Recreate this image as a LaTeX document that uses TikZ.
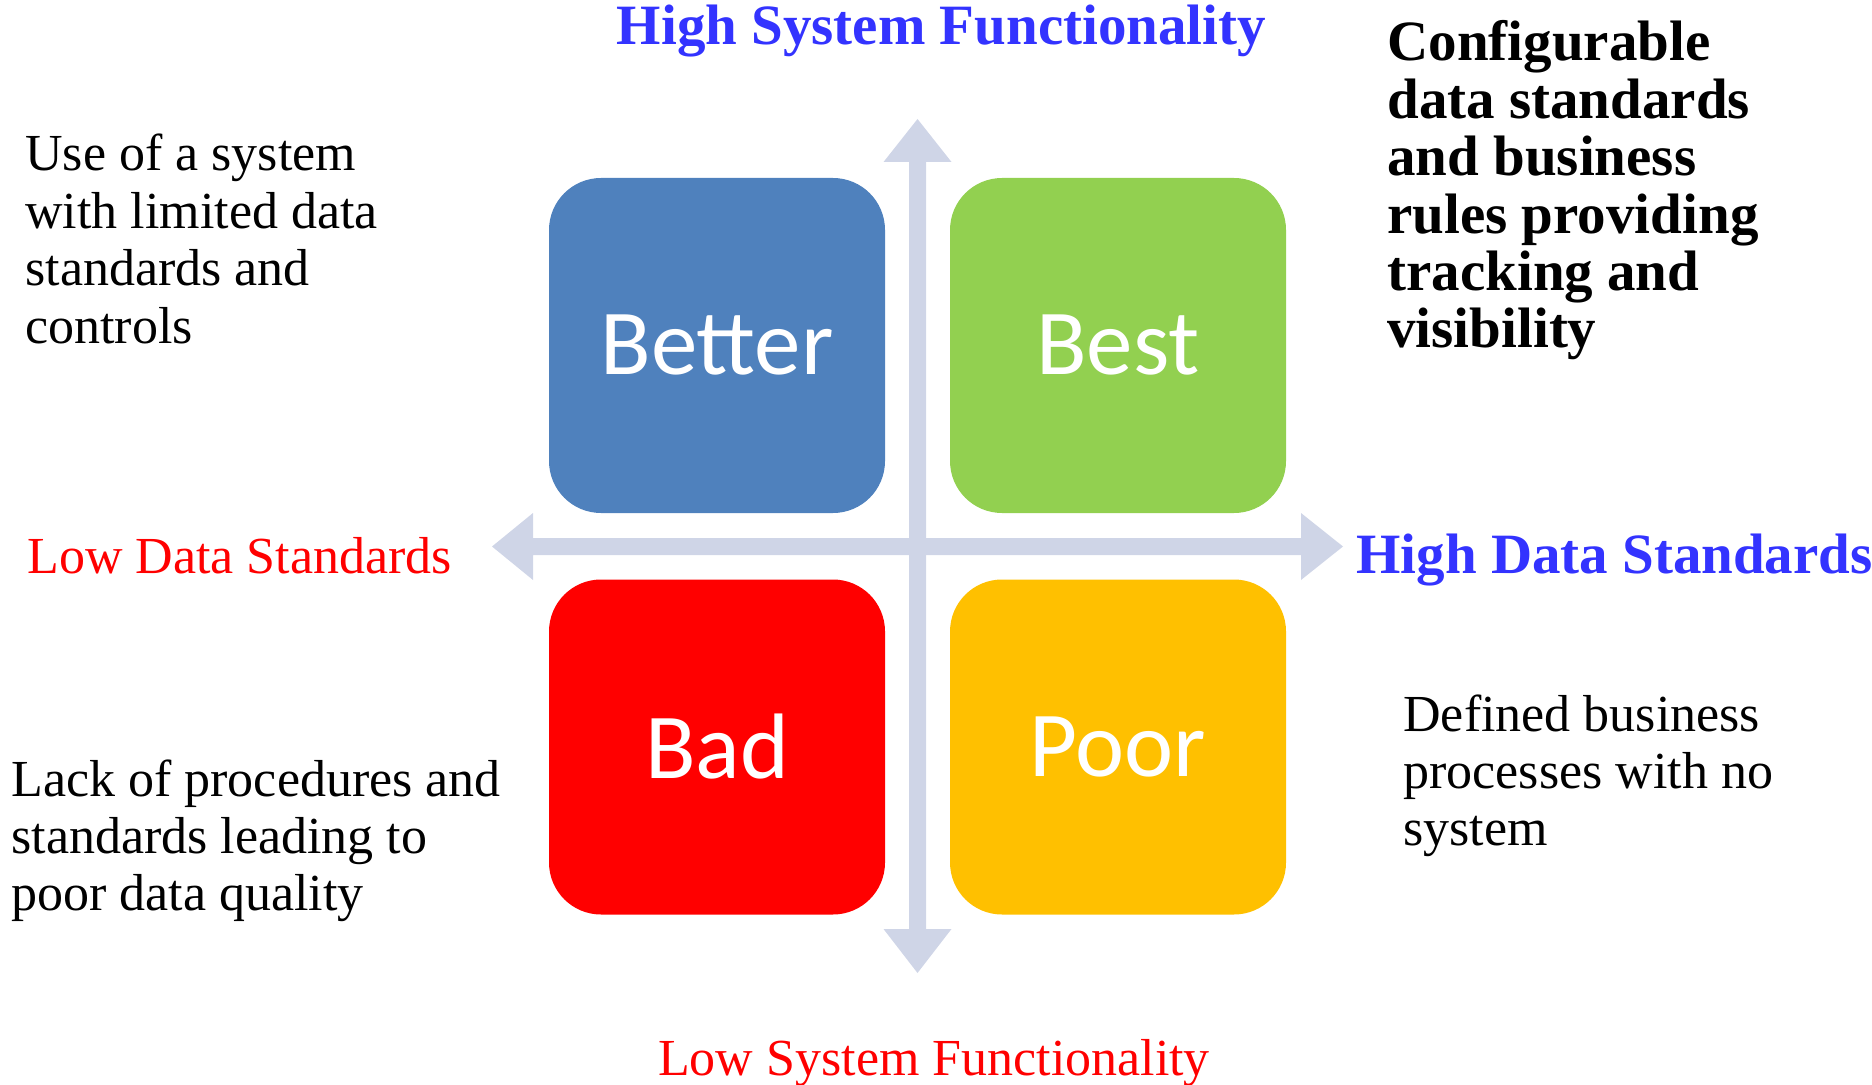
\documentclass[tikz,border=0pt]{standalone}
\usepackage{fontspec}
\setmainfont{Liberation Serif}
\newfontfamily\boxfont{Carlito}
\definecolor{axisgray}{RGB}{207,213,231}
\definecolor{hiblue}{RGB}{51,51,255}
\definecolor{lored}{RGB}{255,0,0}
\definecolor{betterblue}{RGB}{79,129,189}
\definecolor{bestgreen}{RGB}{146,208,80}
\definecolor{badred}{RGB}{255,0,0}
\definecolor{poororange}{RGB}{255,192,0}
\begin{document}
\begin{tikzpicture}[x=0.5pt,y=-0.5pt,
  quad/.style={rounded corners=26pt, minimum width=168pt, minimum height=167.5pt,
    inner sep=0pt, text=white, font=\boxfont\fontsize{46.5}{50}\selectfont},
  regtext/.style={inner sep=0pt, anchor=base west, font=\fontsize{26}{28.75}\selectfont},
  boldtext/.style={inner sep=0pt, anchor=base west, font=\bfseries\fontsize{28.5}{28.7}\selectfont},
  axislabel/.style={inner sep=0pt, font=\fontsize{26}{28}\selectfont},
  axislabelbold/.style={inner sep=0pt, font=\bfseries\fontsize{28.5}{30}\selectfont}]
\useasboundingbox (0,0) rectangle (1872,1085);

% axes
\fill[axisgray] (917.5,119) -- (951.5,162) -- (926,162) -- (926,929) -- (951.5,929)
  -- (917.5,973) -- (883.5,929) -- (909,929) -- (909,162) -- (883.5,162) -- cycle;
\fill[axisgray] (492,546.5) -- (533,513) -- (533,538) -- (1301,538) -- (1301,513)
  -- (1343,546.5) -- (1301,580) -- (1301,555) -- (533,555) -- (533,580) -- cycle;

% quadrants
\node[quad, fill=betterblue] (better) at (717,345.5) {Better};
\node[quad, fill=bestgreen] (best) at (1118,345.5) {Best};
\node[quad, fill=badred] (bad) at (717,747) {Bad};
\node[quad, fill=poororange] (poor) at (1118,747) {Poor};

% axis labels
\node[axislabelbold, text=hiblue, anchor=base] (hsf) at (941.5,44.5) {High System Functionality};
\node[axislabel, text=lored, anchor=base] (lsf) at (934,1075) {Low System Functionality};
\node[axislabel, text=lored, anchor=base west] (lds) at (27,573) {Low Data Standards};
\node[axislabelbold, text=hiblue, anchor=base west] (hds) at (1356,573) {High Data Standards};

% descriptions
\node[regtext] (tl) at (25,171) {\begin{tabular}[t]{@{}l@{}}Use of a system\\ with limited data\\ standards and\\ controls\end{tabular}};
\node[boldtext] (tr) at (1387,61) {\begin{tabular}[t]{@{}l@{}}Configurable\\ data standards\\ and business\\ rules providing\\ tracking and\\ visibility\end{tabular}};
\node[regtext, font=\fontsize{26}{28.5}\selectfont] (bl) at (11,796) {\begin{tabular}[t]{@{}l@{}}Lack of procedures and\\ standards leading to\\ poor data quality\end{tabular}};
\node[regtext, font=\fontsize{26}{28.5}\selectfont] (br) at (1403,731) {\begin{tabular}[t]{@{}l@{}}Defined business\\ processes with no\\ system\end{tabular}};
\end{tikzpicture}
\end{document}
